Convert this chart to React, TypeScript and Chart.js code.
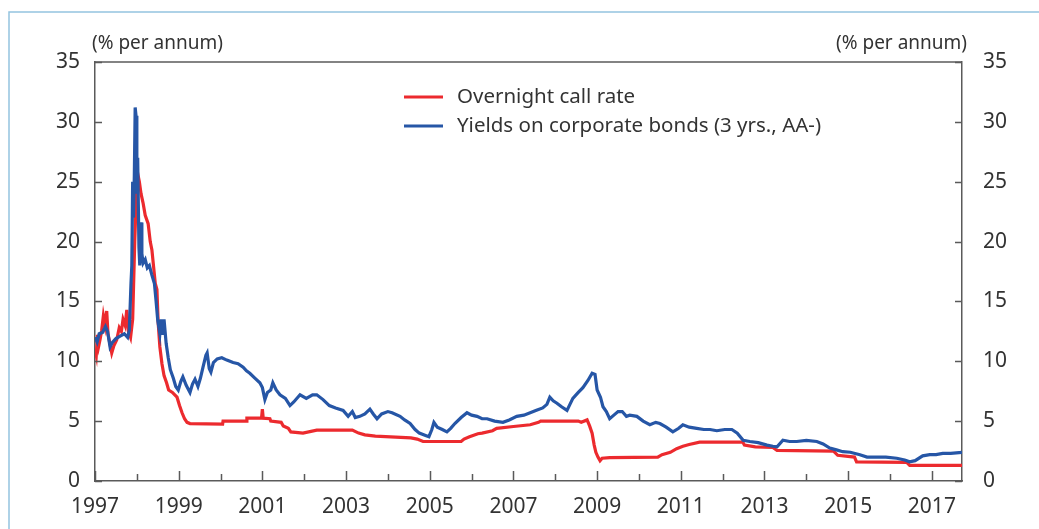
import React, { useEffect, useRef } from "react";
import { Chart, registerables } from "chart.js";

Chart.register(...registerables);

// Overnight call rate (% per annum), decimal-year dates
const callDates = [
  1997.0, 1997.03, 1997.06, 1997.09, 1997.12, 1997.16, 1997.2, 1997.24, 1997.28, 1997.31,
  1997.35, 1997.4, 1997.45, 1997.52, 1997.58, 1997.63, 1997.67, 1997.72, 1997.76, 1997.8,
  1997.85, 1997.9, 1997.95, 1997.99, 1998.02, 1998.06, 1998.1, 1998.15, 1998.2, 1998.27,
  1998.32, 1998.36, 1998.4, 1998.44, 1998.48, 1998.51, 1998.55, 1998.6, 1998.65, 1998.71,
  1998.76, 1998.85, 1998.96, 1999.02, 1999.08, 1999.14, 1999.2, 1999.27, 2000.05, 2000.06,
  2000.62, 2000.63, 2000.98, 2001.0, 2001.02, 2001.18, 2001.2, 2001.45, 2001.5, 2001.62,
  2001.68, 2001.97, 2002.3, 2003.15, 2003.3, 2003.45, 2003.7, 2004.55, 2004.7, 2004.84,
  2005.75, 2005.82, 2005.95, 2006.15, 2006.25, 2006.5, 2006.6, 2007.0, 2007.4, 2007.6,
  2007.65, 2008.55, 2008.62, 2008.76, 2008.82, 2008.88, 2008.93, 2008.97, 2009.02, 2009.07,
  2009.12, 2009.3, 2010.45, 2010.55, 2010.75, 2010.9, 2011.05, 2011.2, 2011.45, 2012.48,
  2012.52, 2012.78, 2013.2, 2013.3, 2014.65, 2014.75, 2015.15, 2015.2, 2016.4, 2016.47,
  2017.72,
];
const callRates = [
  11.0, 10.5, 12.2, 11.3, 11.8, 12.6, 13.8, 13.0, 14.2, 12.3,
  11.6, 10.7, 11.3, 11.8, 12.8, 12.5, 13.5, 13.0, 14.3, 12.5,
  12.0, 13.5, 20.0, 24.0, 25.7, 25.0, 24.0, 23.2, 22.2, 21.5,
  20.0, 19.3, 17.9, 16.5, 16.0, 13.2, 11.2, 9.8, 8.8, 8.2,
  7.6, 7.4, 7.0, 6.3, 5.7, 5.2, 4.9, 4.8, 4.75, 5.0,
  5.0, 5.25, 5.25, 6.0, 5.25, 5.2, 5.0, 4.9, 4.6, 4.4,
  4.1, 4.0, 4.25, 4.25, 4.0, 3.85, 3.75, 3.6, 3.5, 3.3,
  3.3, 3.5, 3.7, 3.95, 4.0, 4.2, 4.4, 4.55, 4.7, 4.9,
  5.0, 5.0, 4.9, 5.1, 4.6, 4.0, 3.0, 2.4, 2.0, 1.7,
  1.9, 1.95, 2.0, 2.2, 2.4, 2.7, 2.9, 3.05, 3.25, 3.25,
  3.0, 2.85, 2.8, 2.55, 2.5, 2.15, 2.0, 1.6, 1.55, 1.3,
  1.3,
];

// Yields on corporate bonds (3 yrs., AA-) (% per annum)
const bondDates = [
  1997.0, 1997.05, 1997.1, 1997.18, 1997.25, 1997.3, 1997.36, 1997.42, 1997.5, 1997.6,
  1997.7, 1997.78, 1997.82, 1997.86, 1997.88, 1997.9, 1997.92, 1997.94, 1997.96, 1997.98,
  1998.0, 1998.02, 1998.05, 1998.07, 1998.1, 1998.12, 1998.15, 1998.2, 1998.25, 1998.3,
  1998.36, 1998.42, 1998.46, 1998.5, 1998.55, 1998.58, 1998.62, 1998.65, 1998.7, 1998.75,
  1998.8, 1998.87, 1998.93, 1998.99, 1999.05, 1999.1, 1999.18, 1999.27, 1999.33, 1999.39,
  1999.46, 1999.52, 1999.58, 1999.65, 1999.68, 1999.73, 1999.77, 1999.83, 1999.92, 2000.03,
  2000.15, 2000.3, 2000.42, 2000.54, 2000.62, 2000.7, 2000.82, 2000.94, 2001.0, 2001.06,
  2001.12, 2001.2, 2001.25, 2001.33, 2001.42, 2001.55, 2001.66, 2001.75, 2001.9, 2002.05,
  2002.2, 2002.3, 2002.45, 2002.6, 2002.75, 2002.93, 2003.05, 2003.15, 2003.22, 2003.33,
  2003.45, 2003.57, 2003.65, 2003.74, 2003.85, 2004.0, 2004.1, 2004.29, 2004.4, 2004.53,
  2004.65, 2004.75, 2004.9, 2004.98, 2005.05, 2005.1, 2005.18, 2005.3, 2005.41, 2005.5,
  2005.6, 2005.75, 2005.89, 2006.0, 2006.13, 2006.25, 2006.37, 2006.55, 2006.75, 2006.9,
  2007.08, 2007.25, 2007.4, 2007.55, 2007.7, 2007.8, 2007.87, 2007.95, 2008.04, 2008.15,
  2008.28, 2008.35, 2008.42, 2008.55, 2008.66, 2008.78, 2008.88, 2008.95, 2009.0, 2009.08,
  2009.14, 2009.22, 2009.3, 2009.4, 2009.5, 2009.6, 2009.7, 2009.78, 2009.95, 2010.1,
  2010.26, 2010.4, 2010.5, 2010.65, 2010.81, 2010.95, 2011.05, 2011.2, 2011.38, 2011.55,
  2011.7, 2011.86, 2012.05, 2012.22, 2012.35, 2012.49, 2012.65, 2012.85, 2013.06, 2013.2,
  2013.3, 2013.44, 2013.6, 2013.77, 2014.0, 2014.25, 2014.4, 2014.56, 2014.72, 2014.87,
  2015.05, 2015.28, 2015.45, 2015.69, 2015.9, 2016.16, 2016.35, 2016.47, 2016.6, 2016.78,
  2016.95, 2017.1, 2017.26, 2017.45, 2017.72,
];
const bondYields = [
  12.0, 11.6, 12.3, 12.4, 12.9, 12.5, 11.2, 11.6, 11.9, 12.1,
  12.3, 12.0, 12.6, 16.5, 18.0, 25.0, 22.0, 25.5, 31.2, 30.5,
  24.0, 27.0, 19.5, 18.0, 21.6, 19.0, 18.2, 18.5, 17.8, 18.0,
  17.2, 16.5, 15.0, 13.4, 12.3, 13.5, 12.2, 13.5, 11.5, 10.3,
  9.3, 8.6, 7.9, 7.6, 8.3, 8.7, 8.0, 7.4, 8.1, 8.5,
  7.9, 8.6, 9.5, 10.5, 10.7, 9.4, 9.1, 9.9, 10.2, 10.3,
  10.1, 9.9, 9.8, 9.5, 9.2, 9.0, 8.6, 8.2, 7.8, 6.8,
  7.4, 7.6, 8.2, 7.6, 7.2, 6.9, 6.3, 6.6, 7.2, 6.9,
  7.2, 7.2, 6.8, 6.3, 6.1, 5.9, 5.4, 5.8, 5.3, 5.4,
  5.6, 6.0, 5.6, 5.2, 5.6, 5.8, 5.7, 5.4, 5.1, 4.8,
  4.3, 4.0, 3.8, 3.7, 4.3, 4.9, 4.5, 4.3, 4.1, 4.4,
  4.8, 5.3, 5.7, 5.5, 5.4, 5.2, 5.2, 5.0, 4.9, 5.1,
  5.4, 5.5, 5.7, 5.9, 6.1, 6.4, 7.0, 6.7, 6.5, 6.2,
  5.9, 6.4, 6.9, 7.4, 7.8, 8.4, 9.0, 8.9, 7.6, 7.0,
  6.2, 5.8, 5.2, 5.5, 5.8, 5.8, 5.4, 5.5, 5.4, 5.0,
  4.7, 4.9, 4.8, 4.5, 4.1, 4.4, 4.7, 4.5, 4.4, 4.3,
  4.3, 4.2, 4.3, 4.3, 4.0, 3.4, 3.3, 3.2, 3.0, 2.9,
  2.85, 3.4, 3.3, 3.3, 3.4, 3.3, 3.1, 2.75, 2.6, 2.45,
  2.4, 2.2, 2.0, 2.0, 2.0, 1.9, 1.75, 1.6, 1.7, 2.1,
  2.2, 2.2, 2.3, 2.3, 2.4,
];

const yTicks = [0, 5, 10, 15, 20, 25, 30, 35];
const yearTicks = [
  1997, 1998, 1999, 2000, 2001, 2002, 2003, 2004, 2005, 2006, 2007,
  2008, 2009, 2010, 2011, 2012, 2013, 2014, 2015, 2016, 2017,
];
const seriesNames = ["Overnight call rate", "Yields on corporate bonds (3 yrs., AA-)"];
const unitLabel = "(% per annum)";

const RED = "#ec2a2e";
const BLUE = "#2656a6";
const AXIS = "#5a5a5a";
const TEXT = "#333333";
const FONT = "'Noto Sans', 'Open Sans', sans-serif";

export default function App() {
  const ref = useRef<HTMLCanvasElement | null>(null);

  useEffect(() => {
    document.body.style.margin = "0";
    const canvas = ref.current;
    if (!canvas) return;

    const decor = {
      id: "decor",
      beforeDraw(chart: any) {
        const ctx = chart.ctx;
        ctx.save();
        ctx.strokeStyle = "#94c4e0";
        ctx.lineWidth = 1.5;
        ctx.beginPath();
        ctx.moveTo(9, 529);
        ctx.lineTo(9, 12);
        ctx.lineTo(1039, 12);
        ctx.stroke();
        ctx.restore();
      },
      afterDraw(chart: any) {
        const ctx = chart.ctx;
        const { left, right, top, bottom } = chart.chartArea;
        const xs = chart.scales.x;
        const ys = chart.scales.y;
        ctx.save();
        ctx.strokeStyle = AXIS;
        ctx.lineWidth = 1.5;
        ctx.beginPath();
        ctx.moveTo(left, top);
        ctx.lineTo(right, top);
        ctx.stroke();
        ctx.beginPath();
        yTicks.forEach((v) => {
          const py = Math.round(ys.getPixelForValue(v)) + 0.5;
          ctx.moveTo(left, py);
          ctx.lineTo(left + 7, py);
          ctx.moveTo(right, py);
          ctx.lineTo(right - 7, py);
        });
        yearTicks.forEach((yr) => {
          const px = Math.round(xs.getPixelForValue(yr)) + 0.5;
          const len = yr % 2 === 1 ? 10 : 7;
          ctx.moveTo(px, bottom);
          ctx.lineTo(px, bottom - len);
        });
        ctx.stroke();

        ctx.fillStyle = TEXT;
        ctx.font = `19px ${FONT}`;
        ctx.textBaseline = "middle";
        ctx.textAlign = "left";
        ctx.fillText(unitLabel, 92, 44);
        ctx.textAlign = "right";
        ctx.fillText(unitLabel, 967, 44);

        // legend
        const items = [
          { name: seriesNames[0], color: RED, y: 97 },
          { name: seriesNames[1], color: BLUE, y: 126 },
        ];
        ctx.textAlign = "left";
        ctx.font = `20.5px ${FONT}`;
        items.forEach((it) => {
          ctx.strokeStyle = it.color;
          ctx.lineWidth = 3;
          ctx.beginPath();
          ctx.moveTo(404, it.y);
          ctx.lineTo(443, it.y);
          ctx.stroke();
          ctx.fillStyle = TEXT;
          ctx.fillText(it.name, 457, it.y);
        });
        ctx.restore();
      },
    };

    const chart = new Chart(canvas, {
      type: "line",
      data: {
        datasets: [
          {
            label: seriesNames[0],
            data: callDates.map((d, i) => ({ x: d, y: callRates[i] })),
            borderColor: RED,
            borderWidth: 3.2,
            pointRadius: 0,
            tension: 0,
            order: 2,
            yAxisID: "y",
          },
          {
            label: seriesNames[1],
            data: bondDates.map((d, i) => ({ x: d, y: bondYields[i] })),
            borderColor: BLUE,
            borderWidth: 3.2,
            pointRadius: 0,
            tension: 0,
            order: 1,
            yAxisID: "y",
          },
        ],
      },
      options: {
        responsive: false,
        animation: false,
        layout: { padding: { top: 62, left: 0, right: 0, bottom: 0 } },
        plugins: { legend: { display: false }, tooltip: { enabled: false } },
        scales: {
          x: {
            type: "linear",
            min: 1997,
            max: 2017.72,
            afterBuildTicks: (s: any) => {
              s.ticks = yearTicks.map((v) => ({ value: v }));
            },
            afterFit: (s: any) => {
              s.height = 48;
            },
            grid: { display: false, drawTicks: false },
            border: { display: true, color: AXIS, width: 1.5 },
            ticks: {
              autoSkip: false,
              maxRotation: 0,
              padding: 13,
              color: TEXT,
              font: { family: FONT, size: 21 },
              callback: (v: any) => {
                const r = Math.round(Number(v));
                return r % 2 === 1 ? String(r) : "";
              },
            },
          },
          y: {
            position: "left",
            min: 0,
            max: 35,
            afterBuildTicks: (s: any) => {
              s.ticks = yTicks.map((v) => ({ value: v }));
            },
            afterFit: (s: any) => {
              s.width = 95;
            },
            grid: { display: false, drawTicks: false },
            border: { display: true, color: AXIS, width: 1.5 },
            ticks: {
              padding: 15,
              color: TEXT,
              font: { family: FONT, size: 21 },
            },
          },
          y2: {
            position: "right",
            min: 0,
            max: 35,
            afterBuildTicks: (s: any) => {
              s.ticks = yTicks.map((v) => ({ value: v }));
            },
            afterFit: (s: any) => {
              s.width = 77;
            },
            grid: { display: false, drawTicks: false },
            border: { display: true, color: AXIS, width: 1.5 },
            ticks: {
              padding: 21,
              color: TEXT,
              font: { family: FONT, size: 21 },
            },
          },
        },
      },
      plugins: [decor],
    });
    return () => chart.destroy();
  }, []);

  return (
    <div style={{ width: 1039, height: 529, position: "relative", background: "#fff" }}>
      <canvas ref={ref} width={1039} height={529} style={{ display: "block" }} />
    </div>
  );
}
